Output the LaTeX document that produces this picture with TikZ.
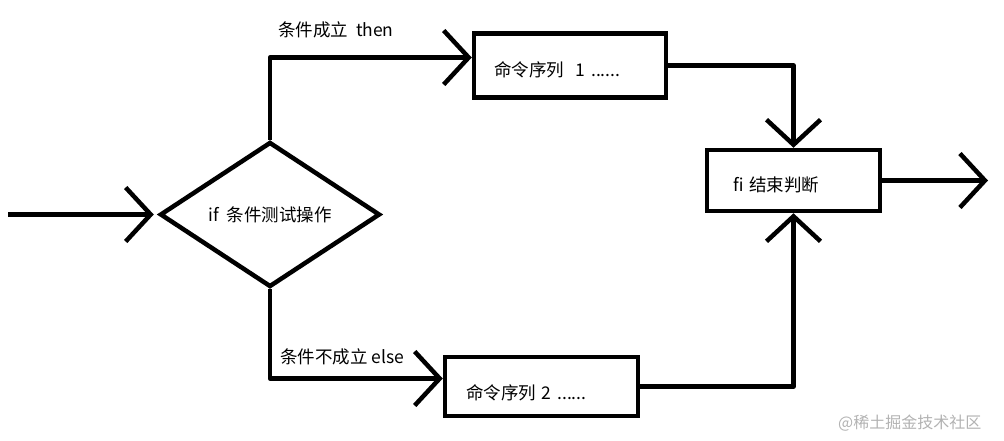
\documentclass[tikz,border=0pt]{standalone}
\usepackage{fontspec}
\newfontfamily\cjk{Noto Sans CJK SC}
\usetikzlibrary{shapes.geometric, arrows.meta, positioning}
\begin{document}
\begin{tikzpicture}[x=1pt,y=-1pt]
		\tikzset{
			every node/.style={font=\cjk\fontsize{17.5}{21}\selectfont},
			test/.style={diamond, draw, line width=4.5pt, minimum width=220pt, minimum height=145pt,
			inner sep=0pt},
			box/.style={rectangle, draw, line width=4.5pt, align=left, inner xsep=0pt,
			text height=23pt, text depth=2pt},
			flow/.style={line width=4.5pt, line join=round, -{Straight Barb[length=25pt,width=54pt]}},
			note/.style={inner sep=0pt, anchor=west}
		}
		\useasboundingbox (0,0) rectangle (1004,440);

		\node[test](cond) at (270,214.5){if\ \ 条件测试操作};
		\node[box, minimum width=192pt, minimum height=64pt, text width=152pt, inner xsep=20pt]
			(then) at (570,65.5){命令序列\ \ 1 ......};
		\node[box, minimum width=193pt, minimum height=59pt, text width=151pt, inner xsep=21pt,
			text height=27pt](else) at (541.5,386.5){命令序列 2 ......};
		\node[box, minimum width=173pt, minimum height=61pt, text width=121pt, inner xsep=26pt]
			(fi) at (793.5,180.5){fi 结束判断};

		\node[note](thenlabel) at (278,30){条件成立\ \ then};
		\node[note](elselabel) at (280,357){条件不成立 else};
		\node[note, font=\cjk\fontsize{16}{18}\selectfont, text=black!30](mark) at (838,423){@稀土掘金技术社区};

		\coordinate (entry) at (8,214.5);
		\coordinate (exit) at (988,180.5);

		\draw[flow, shorten >=4pt](entry) -- (cond.west);
		\draw[flow](cond.north) |- ([yshift=8pt]then.west);
		\draw[flow](cond.south) |- ([yshift=8pt]else.west);
		\draw[flow](then.east) -| (fi.north);
		\draw[flow](else.east) -| (fi.south);
		\draw[flow](fi.east) -- (exit);

	\end{tikzpicture}
\end{document}
